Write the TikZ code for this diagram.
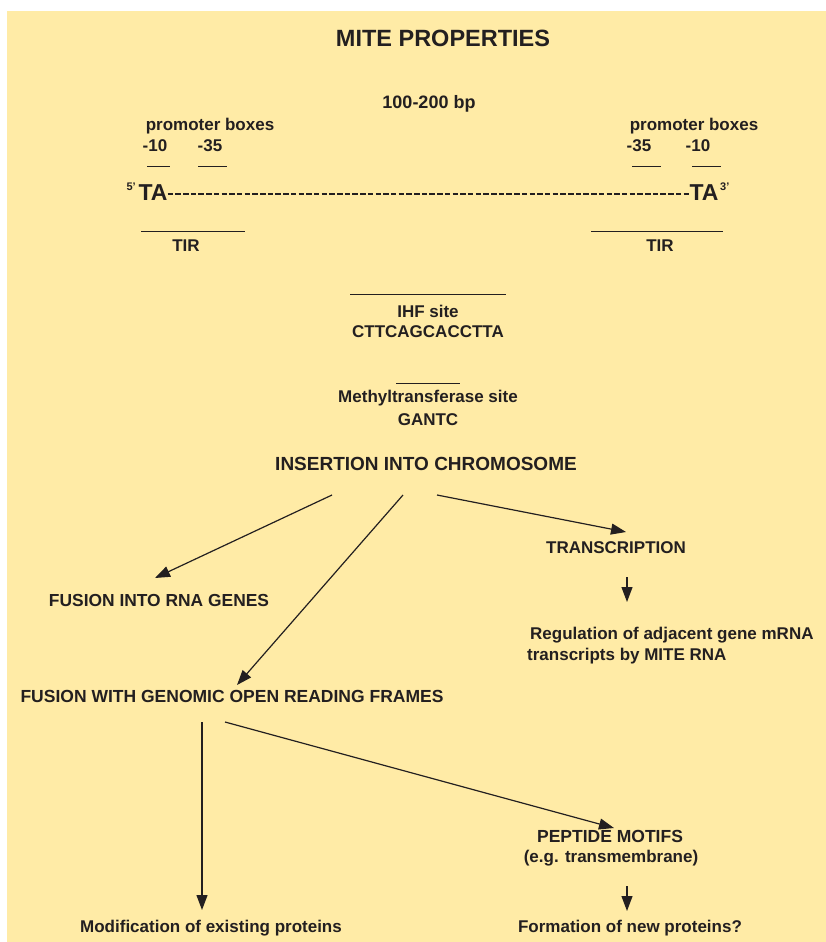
\documentclass[tikz,border=0pt]{standalone}
\usepackage{fontspec}
\setmainfont{Liberation Sans}
\usetikzlibrary{arrows.meta, positioning}
\definecolor{mitebg}{RGB}{255,235,166}
\definecolor{ink}{RGB}{35,31,32}
\newcommand{\fs}[1]{\fontsize{#1}{#1}\selectfont}

\begin{document}
\begin{tikzpicture}
[x=1pt, y=-1pt,
 lbl/.style={anchor=base, inner sep=0pt, text=ink, font=\bfseries\fs{17}},
 bar/.style={draw=ink, line width=0.9pt},
 dna/.style={draw=ink, line width=2.5pt, dash pattern=on 5.5pt off 2.2pt},
 ->/.style={draw=ink, line width=1.2pt, arrows={-Triangle[length=15pt, width=11pt]}}]
\useasboundingbox (0,0) rectangle (826,942);
\fill[mitebg] (7,11) rectangle (826,942);
\node[lbl, font=\bfseries\fs{23.5}] (title) at (443,47) {MITE PROPERTIES};
\node[lbl, font=\bfseries\fs{18}] (len) at (429,108) {100-200 bp};
% left end
\node[lbl] (pbl) at (210,130) {promoter boxes};
\node[lbl] (m10l) at (155,151) {-10};
\node[lbl] (m35l) at (210,151) {-35};
\draw[bar] (147,166) -- (170,166);
\draw[bar] (198,166) -- (227,166);
\node[lbl, font=\bfseries\fs{23}] (tal) at (153,200) {TA};
\node[lbl, font=\bfseries\fs{11}, anchor=base east] (p5) at (136,190) {5'};
\draw[bar] (141,231) -- (245,231);
\node[lbl] (tirl) at (186,251) {TIR};
% right end
\node[lbl] (pbr) at (694,130) {promoter boxes};
\node[lbl] (m35r) at (639,151) {-35};
\node[lbl] (m10r) at (698,151) {-10};
\draw[bar] (632,166) -- (661,166);
\draw[bar] (692,166) -- (721,166);
\node[lbl, font=\bfseries\fs{23}] (tar) at (704,200) {TA};
\node[lbl, font=\bfseries\fs{11}, anchor=base west] (p3) at (720,190) {3'};
\draw[bar] (591,231) -- (723,231);
\node[lbl] (tirr) at (660,251) {TIR};
\draw[dna] ([yshift=-2pt]tal.east) -- ([yshift=-2pt]tar.west);
% sites
\draw[bar] (350,294) -- (506,294);
\node[lbl] (ihf) at (428,317) {IHF site};
\node[lbl] (ihfseq) at (428,337) {CTTCAGCACCTTA};
\draw[bar] (396,383) -- (460,383);
\node[lbl] (mtase) at (428,402) {Methyltransferase site};
\node[lbl] (mtseq) at (428,425) {GANTC};
\node[lbl, font=\bfseries\fs{19}] (ins) at (426,470) {INSERTION INTO CHROMOSOME};
% outcomes
\node[lbl] (trans) at (616,553) {TRANSCRIPTION};
\node[lbl, anchor=base west] (reg1) at (530,639) {Regulation of adjacent gene mRNA};
\node[lbl, anchor=base west] (reg2) at (527,660) {transcripts by MITE RNA};
\node[lbl, font=\bfseries\fs{17.4}] (rna) at (159,606) {FUSION INTO RNA GENES};
\node[lbl, font=\bfseries\fs{17.5}] (orf) at (232,702) {FUSION WITH GENOMIC OPEN READING FRAMES};
\node[lbl, font=\bfseries\fs{17.5}] (pep) at (610,842) {PEPTIDE MOTIFS};
\node[lbl] (tm) at (611,862) {(e.g. transmembrane)};
\node[lbl] (mod) at (211,932) {Modification of existing proteins};
\node[lbl] (new) at (630,932) {Formation of new proteins?};
% arrow ends
\coordinate (ins1) at (332,495);
\coordinate (ins2) at (403,495);
\coordinate (ins3) at (437,495);
\coordinate (rnatip) at (155,578);
\coordinate (orftip) at (237,685);
\coordinate (trtip) at (626,532);
\coordinate (tr1) at (627,577);
\coordinate (tr2) at (627,602);
\coordinate (orf1) at (202,722);
\coordinate (orf2) at (225,722);
\coordinate (modtip) at (202,910);
\coordinate (peptip) at (614,828);
\coordinate (pep1) at (627,886);
\coordinate (pep2) at (627,911);
\draw[->] (ins1) -- (rnatip);
\draw[->] (ins2) -- (orftip);
\draw[->] (ins3) -- (trtip);
\draw[->] (tr1) -- (tr2);
\draw[->] (orf1) -- (modtip);
\draw[->] (orf2) -- (peptip);
\draw[->] (pep1) -- (pep2);
\end{tikzpicture}
\end{document}
